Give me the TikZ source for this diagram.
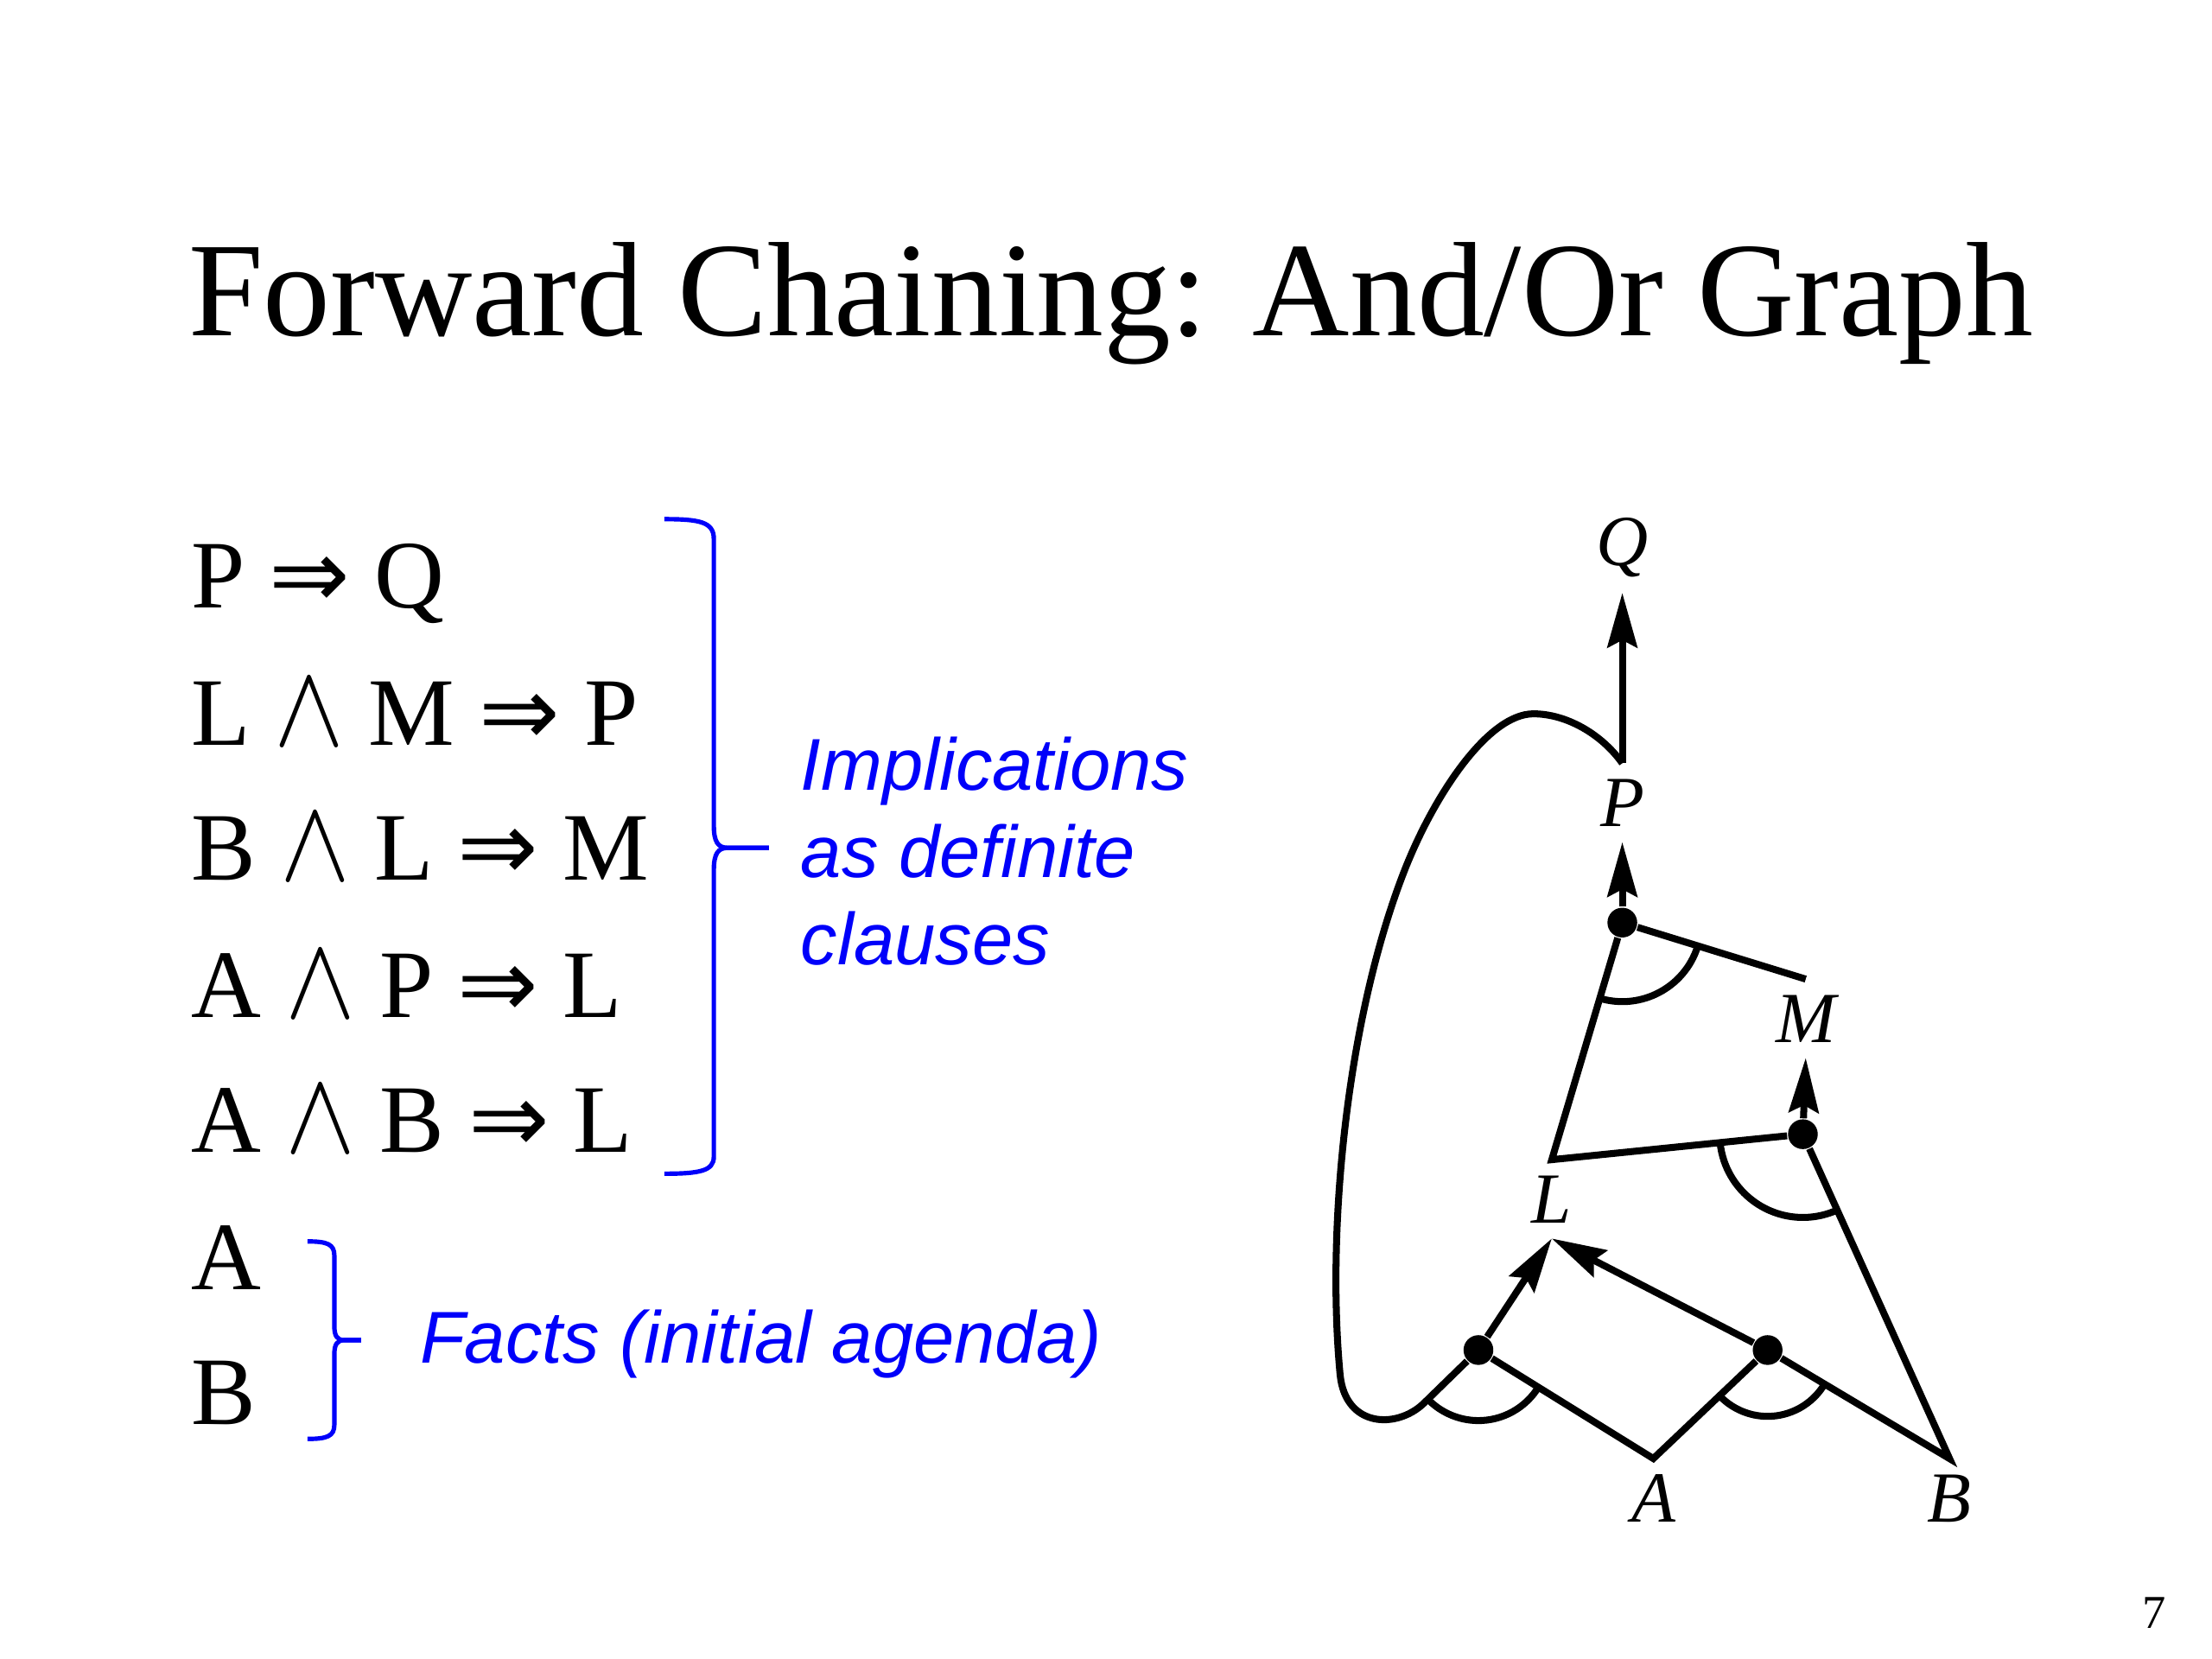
\documentclass[tikz,border=0pt]{standalone}
\usepackage{graphicx}
\usepackage{fontspec}
\setmainfont{Liberation Serif}
\newfontfamily\helvfont{Liberation Sans}
\newfontfamily\symbfont{DejaVu Sans}
\usetikzlibrary{arrows.meta}

\definecolor{noteblue}{RGB}{0,0,250}
\newcommand{\impl}{{\symbfont ⇒}}
\newcommand{\conj}{\scalebox{1.02}[1.14]{$\wedge$}}

\begin{document}
\begin{tikzpicture}[x=0.01cm, y=-0.01cm,
  clause/.style={anchor=base west, inner sep=0pt, font=\fontsize{19.5}{23}\selectfont},
  note/.style={anchor=base west, inner sep=0pt, text=noteblue, font=\helvfont\itshape\fontsize{14.8}{18}\selectfont},
  brace/.style={draw=noteblue, line width=0.9pt},
  lbl/.style={inner sep=3pt, font=\itshape\fontsize{14.5}{17}\selectfont},
  edge/.style={line width=1.4pt},
  arr/.style={edge, -{Stealth[length=11pt, width=6pt, inset=1.5pt]}},
  dot/.style={circle, fill, inner sep=0pt, minimum size=6pt}]

\useasboundingbox (0,0) rectangle (1568,1176);

% Title
\node[anchor=base west, inner sep=0pt, font=\fontsize{27.1}{32}\selectfont] (title) at (133,238) {Forward Chaining: And/Or Graph};

% Clauses
\node[clause] (c1) at (135,431) {P \impl{} Q};
\node[clause] (c2) at (135,528) {L \conj{} M \impl{} P};
\node[clause] (c3) at (135,624) {B \conj{} L \impl{} M};
\node[clause] (c4) at (135,721) {A \conj{} P \impl{} L};
\node[clause] (c5) at (135,817) {A \conj{} B \impl{} L};
\node[clause] (f1) at (135,914) {A};
\node[clause] (f2) at (135,1010) {B};

% Braces
\draw[brace] (471,368) .. controls (496,368) and (506,370) .. (506,382)
  -- (506,585) .. controls (506,597) and (509,601) .. (516,601) -- (545,601);
\draw[brace] (545,601) -- (516,601) .. controls (509,601) and (506,605) .. (506,617)
  -- (506,820) .. controls (506,830) and (496,832) .. (471,832);
\draw[brace] (218,880) .. controls (232,880) and (237,882) .. (237,890)
  -- (237,940) .. controls (237,947) and (239,950) .. (244,950) -- (256,950);
\draw[brace] (256,950) -- (244,950) .. controls (239,950) and (237,953) .. (237,960)
  -- (237,1010) .. controls (237,1018) and (232,1020) .. (218,1020);

% Notes
\node[note] (impl1) at (567,560) {Implications};
\node[note] (impl2) at (567,622) {as definite};
\node[note] (impl3) at (567,684) {clauses};
\node[note] (facts) at (297,966) {Facts (initial agenda)};

% Graph labels
\node[lbl] (Q) at (1150,388) {Q};
\node[lbl] (P) at (1150,569) {P};
\node[lbl] (M) at (1280,722) {M};
\node[lbl] (L) at (1100,850) {L};
\node[lbl] (A) at (1172,1062) {A};
\node[lbl] (B) at (1382,1062) {B};

% Junctions
\node[dot] (jP) at (1150,654) {};
\node[dot] (jM) at (1278,804) {};
\node[dot] (jL1) at (1048,957) {};
\node[dot] (jL2) at (1253,957) {};

% Edges
\draw[edge] (jP) -- (L.north) -- (jM);
\draw[edge] (jP) -- (M.north);
\draw[edge] (jM) -- (B.north) -- (jL2);
\draw[edge] (jL1) -- (A.north) -- (jL2);

% Loop from P back down to the A,P junction
\draw[edge] (jL1) -- (1009,995)
  .. controls (990,1013) and (954,1012) .. (950,975)
  .. controls (940,870) and (955,720) .. (996,616)
  .. controls (1017,563) and (1055,506) .. (1087,506)
  .. controls (1110,506) and (1135,520) .. (P.north);

% Arrows
\draw[arr] (P.north) -- (Q.south);
\draw[arr] (jP) -- (P.south);
\draw[arr] (jM) -- (M.south);
\draw[arr] (jL1) -- (L.south);
\draw[arr] (jL2) -- (L.south);

% And arcs
\draw[edge] (jP.center) ++(18:56) arc[start angle=18, end angle=106, radius=56];
\draw[edge] (jM.center) ++(66:59) arc[start angle=66, end angle=174, radius=59];
\draw[edge] (jL1.center) ++(31:50) arc[start angle=31, end angle=136, radius=50];
\draw[edge] (jL2.center) ++(31:47) arc[start angle=31, end angle=134, radius=47];

% Page number
\node[anchor=base, inner sep=0pt, font=\fontsize{9.5}{11}\selectfont] (pagenum) at (1527,1154) {7};

\end{tikzpicture}
\end{document}
